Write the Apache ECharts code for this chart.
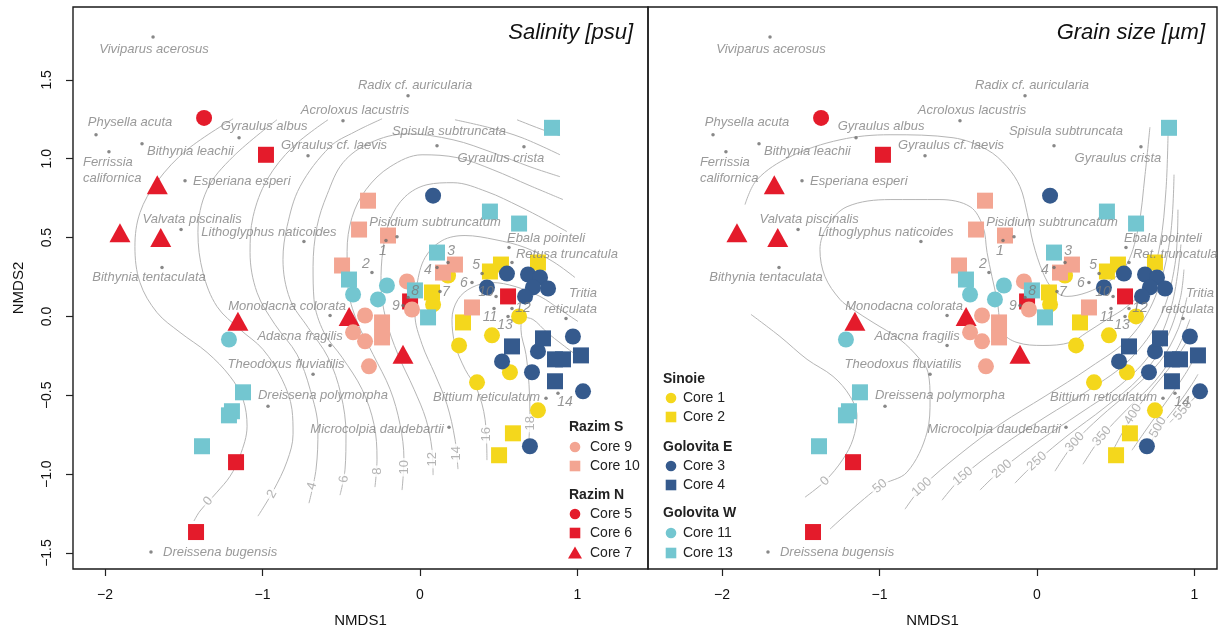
<!DOCTYPE html>
<html><head><meta charset="utf-8">
<script src="https://cdn.jsdelivr.net/npm/echarts/dist/echarts.min.js"></script>
<style>html,body{margin:0;padding:0;background:#fff}#c{width:1219px;height:633px}</style>
</head><body><div id="c"></div>
<script>
// ---------------- DATA ----------------
const core1 = [[0.178,0.259],[0.083,0.076],[0.248,-0.184],[0.362,-0.418],[0.457,-0.120],[0.629,0.000],[0.571,-0.354],[0.749,-0.595]];
const core2 = [[0.076,0.152],[0.273,-0.038],[0.444,0.285],[0.514,0.329],[0.749,0.342],[0.590,-0.741],[0.502,-0.880]];
const core3 = [[0.083,0.766],[0.425,0.184],[0.552,0.272],[0.686,0.266],[0.762,0.247],[0.717,0.184],[0.813,0.177],[0.667,0.127],[0.521,-0.285],[0.711,-0.354],[0.749,-0.222],[0.971,-0.127],[1.035,-0.475],[0.698,-0.823]];
const core4 = [[0.584,-0.190],[0.781,-0.139],[0.857,-0.272],[0.908,-0.272],[1.022,-0.247],[0.857,-0.411]];
const core5 = [[-1.371,1.259]];
const core6 = [[-0.978,1.025],[-1.168,-0.924],[-1.422,-1.367],[0.559,0.127],[-0.063,0.095]];
const core7 = [[-1.668,0.835],[-1.905,0.530],[-1.646,0.500],[-1.156,-0.030],[-0.450,0.000],[-0.108,-0.240]];
const core9 = [[-0.083,0.222],[-0.051,0.044],[-0.349,0.006],[-0.425,-0.101],[-0.349,-0.158],[-0.324,-0.316]];
const core10 = [[-0.330,0.734],[-0.387,0.551],[-0.203,0.513],[-0.495,0.323],[0.146,0.278],[0.222,0.329],[-0.241,-0.038],[-0.241,-0.133],[0.330,0.057]];
const core11 = [[-1.213,-0.146],[-0.425,0.139],[-0.210,0.196],[-0.267,0.108]];
const core13 = [[0.838,1.196],[0.444,0.665],[0.629,0.589],[0.108,0.405],[-0.451,0.234],[-0.032,0.165],[0.051,-0.006],[-1.124,-0.481],[-1.194,-0.601],[-1.213,-0.627],[-1.384,-0.823]];

const speciesNames = ['Viviparus acerosus','Physella acuta','Ferrissia californica','Bithynia leachii','Gyraulus albus','Esperiana esperi','Valvata piscinalis','Lithoglyphus naticoides','Bithynia tentaculata','Gyraulus cf. laevis','Acroloxus lacustris','Radix cf. auricularia','Spisula subtruncata','Gyraulus crista','Pisidium subtruncatum','Ebala pointeli','Retusa truncatula','Tritia reticulata','Monodacna colorata','Adacna fragilis','Theodoxus fluviatilis','Dreissena polymorpha','Microcolpia daudebartii','Bittium reticulatum','Dreissena bugensis'];
const speciesX = [-1.695,-2.057,-1.975,-1.765,-1.149,-1.492,-1.517,-0.737,-1.638,-0.711,-0.489,-0.076,0.108,0.660,-0.146,0.565,0.584,0.927,-0.571,-0.571,-0.679,-0.965,0.184,0.800,-1.708];
const speciesY = [1.772,1.152,1.044,1.095,1.133,0.861,0.551,0.475,0.310,1.019,1.241,1.399,1.082,1.076,0.506,0.437,0.342,-0.013,0.006,-0.184,-0.367,-0.570,-0.703,-0.519,-1.494];

const siteLabels = ['1','2','3','4','5','6','7','8','9','10','11','12','13','14'];
const siteX = [-0.216,-0.305,0.178,0.108,0.394,0.330,0.127,-0.076,-0.108,0.483,0.470,0.584,0.559,0.876];
const siteY = [0.481,0.278,0.342,0.310,0.272,0.215,0.158,0.120,0.070,0.127,0.051,0.051,0.000,-0.487];

// salinity contours (psu)
const sal0 = [[-1.187,1.253],[-1.479,1.057],[-1.670,0.854],[-1.778,0.658],[-1.810,0.443],[-1.778,0.215],[-1.670,0.025],[-1.524,-0.101],[-1.352,-0.228],[-1.206,-0.380],[-1.124,-0.525],[-1.098,-0.696],[-1.143,-0.886],[-1.206,-1.013],[-1.289,-1.114],[-1.397,-1.234],[-1.435,-1.297]];
const sal2 = [[-0.908,1.247],[-1.187,1.013],[-1.352,0.804],[-1.410,0.532],[-1.378,0.278],[-1.289,0.063],[-1.143,-0.082],[-0.997,-0.209],[-0.876,-0.399],[-0.813,-0.589],[-0.806,-0.747],[-0.844,-0.918],[-0.933,-1.108],[-1.029,-1.266]];
const sal4 = [[-0.584,1.247],[-0.806,1.076],[-0.971,0.867],[-1.060,0.633],[-1.079,0.405],[-1.035,0.152],[-0.921,-0.051],[-0.781,-0.241],[-0.698,-0.462],[-0.648,-0.715],[-0.660,-0.968],[-0.705,-1.184]];
const sal4b = [[0.616,1.247],[0.762,1.190],[0.889,1.146]];
const sal6 = [[-0.241,1.253],[-0.413,1.171],[-0.571,1.076],[-0.762,0.823],[-0.844,0.570],[-0.870,0.361],[-0.825,0.108],[-0.711,-0.070],[-0.584,-0.259],[-0.502,-0.494],[-0.470,-0.747],[-0.476,-0.968],[-0.508,-1.133]];
const sal6b = [[0.222,1.247],[0.444,1.196],[0.648,1.133],[0.889,1.025]];
const sal8 = [[-0.286,-1.082],[-0.273,-0.905],[-0.292,-0.684],[-0.368,-0.462],[-0.495,-0.259],[-0.610,-0.101],[-0.673,0.108],[-0.679,0.316],[-0.654,0.570],[-0.590,0.772],[-0.489,0.975],[-0.317,1.101],[-0.083,1.158],[0.210,1.120],[0.463,1.038],[0.698,0.949],[0.889,0.886]];
const sal10 = [[-0.114,-1.101],[-0.102,-0.905],[-0.127,-0.684],[-0.190,-0.462],[-0.298,-0.241],[-0.400,-0.032],[-0.457,0.184],[-0.463,0.411],[-0.432,0.627],[-0.343,0.804],[-0.190,0.949],[0.013,1.025],[0.241,1.006],[0.463,0.930],[0.698,0.829],[0.908,0.741]];
const sal12 = [[0.083,-1.006],[0.076,-0.842],[0.038,-0.652],[-0.038,-0.462],[-0.140,-0.241],[-0.216,-0.019],[-0.248,0.203],[-0.235,0.424],[-0.190,0.614],[-0.095,0.759],[0.044,0.835],[0.210,0.848],[0.425,0.791],[0.635,0.696],[0.794,0.614],[0.933,0.538]];
const sal14 = [[0.241,-0.968],[0.222,-0.778],[0.171,-0.557],[0.095,-0.367],[0.013,-0.177],[-0.032,0.013],[-0.019,0.203],[0.032,0.373],[0.140,0.481],[0.286,0.513],[0.476,0.487],[0.667,0.437],[0.844,0.348],[0.984,0.247]];
const sal16 = [[0.425,-0.911],[0.413,-0.652],[0.362,-0.462],[0.286,-0.335],[0.222,-0.177],[0.203,-0.019],[0.241,0.108],[0.330,0.184],[0.457,0.215],[0.603,0.190],[0.762,0.127],[0.889,0.044],[1.003,-0.032]];
const sal18 = [[0.692,-0.778],[0.698,-0.620],[0.692,-0.430],[0.673,-0.241],[0.641,-0.082],[0.654,-0.006],[0.717,-0.019],[0.806,-0.101],[0.902,-0.177],[1.003,-0.253]];
const salLabelText = ['0','2','4','6','8','10','12','14','16','18'];
const salLabelX = [-1.346,-0.940,-0.686,-0.483,-0.273,-0.102,0.076,0.229,0.419,0.698];
const salLabelY = [-1.171,-1.127,-1.076,-1.032,-0.981,-0.956,-0.905,-0.867,-0.747,-0.677];

// grain size contours (µm)
const gs0 = [[-1.816,0.013],[-1.632,-0.127],[-1.460,-0.272],[-1.295,-0.380],[-1.187,-0.506],[-1.143,-0.633],[-1.168,-0.778],[-1.232,-0.905],[-1.346,-1.044],[-1.473,-1.146]];
const gs50 = [[-1.314,-1.348],[-0.997,-1.076],[-0.825,-0.987],[-0.698,-0.734],[-0.679,-0.525],[-0.692,-0.354],[-0.743,-0.272],[-0.870,-0.146],[-1.041,-0.038],[-1.168,0.044],[-1.251,0.108],[-1.346,0.253],[-1.378,0.424],[-1.333,0.570],[-1.206,0.696],[-0.933,0.741],[-0.616,0.741],[-0.425,0.696],[-0.343,0.570],[-0.317,0.405],[-0.286,0.253],[-0.254,0.108],[-0.216,-0.101],[-0.127,-0.165],[0.038,-0.184],[0.210,-0.165],[0.317,-0.101],[0.444,-0.019],[0.571,0.063],[0.705,0.203],[0.781,0.456],[0.819,0.804],[0.832,1.152]];
const gsUpper = [[-1.854,0.709],[-1.778,0.867],[-1.568,1.013],[-1.251,1.120],[-0.933,1.152],[-0.533,1.133],[-0.317,1.057],[-0.190,0.949],[-0.108,0.823],[-0.063,0.658],[-0.025,0.468],[0.038,0.278],[0.102,0.171],[0.190,0.127],[0.317,0.152],[0.444,0.215],[0.559,0.310],[0.641,0.551],[0.686,0.899],[0.717,1.200]];
const gs100 = [[-0.838,-1.222],[-0.730,-1.082],[-0.489,-0.873],[-0.235,-0.684],[0.051,-0.506],[0.337,-0.323],[0.590,-0.133],[0.749,0.120],[0.844,0.487],[0.870,0.899]];
const gs150 = [[-0.603,-1.165],[-0.470,-1.013],[-0.235,-0.829],[0.051,-0.639],[0.337,-0.462],[0.590,-0.272],[0.781,-0.006],[0.876,0.329],[0.895,0.677]];
const gs200 = [[-0.362,-1.101],[-0.222,-0.968],[0.019,-0.785],[0.273,-0.614],[0.527,-0.437],[0.730,-0.222],[0.857,0.076],[0.914,0.456]];
const gs250 = [[-0.140,-1.057],[0.000,-0.918],[0.197,-0.753],[0.432,-0.576],[0.654,-0.386],[0.813,-0.158],[0.908,0.108],[0.933,0.297]];
const gs300 = [[0.114,-0.981],[0.241,-0.797],[0.400,-0.639],[0.590,-0.475],[0.781,-0.285],[0.895,-0.082],[0.952,0.120]];
const gs350 = [[0.292,-0.937],[0.413,-0.759],[0.571,-0.589],[0.749,-0.411],[0.889,-0.209],[0.971,-0.019]];
const gs400 = [[0.463,-0.886],[0.610,-0.620],[0.730,-0.462],[0.857,-0.304],[0.959,-0.146],[0.990,-0.082]];
const gs450 = [[0.603,-0.848],[0.717,-0.684],[0.832,-0.525],[0.940,-0.367],[1.010,-0.247]];
const gs500 = [[0.717,-0.804],[0.781,-0.703],[0.895,-0.557],[0.984,-0.430],[1.022,-0.367]];
const gs550 = [[0.844,-0.671],[0.927,-0.589],[1.003,-0.513],[1.035,-0.481]];
const gsLabelText = ['0','50','100','150','200','250','300','350','400','500','550'];
const gsLabelX = [-1.346,-0.997,-0.730,-0.470,-0.222,0.000,0.241,0.413,0.610,0.768,0.927];
const gsLabelY = [-1.044,-1.076,-1.082,-1.013,-0.968,-0.918,-0.797,-0.759,-0.620,-0.703,-0.595];

const xTicks = [-2,-1,0,1];
const yTicks = [-1.5,-1,-0.5,0,0.5,1,1.5];

// ---------------- STYLES / LAYOUT ----------------
const FONT = 'Liberation Sans, Arial, Helvetica, sans-serif';
const cores = [
  {name:'Core 1', data:core1, color:'#F4D71C', symbol:'circle'},
  {name:'Core 2', data:core2, color:'#F4D71C', symbol:'rect'},
  {name:'Core 3', data:core3, color:'#355A8D', symbol:'circle'},
  {name:'Core 4', data:core4, color:'#355A8D', symbol:'rect'},
  {name:'Core 5', data:core5, color:'#E41B2B', symbol:'circle'},
  {name:'Core 6', data:core6, color:'#E41B2B', symbol:'rect'},
  {name:'Core 7', data:core7, color:'#E41B2B', symbol:'triangle'},
  {name:'Core 9', data:core9, color:'#F3A592', symbol:'circle'},
  {name:'Core 10', data:core10, color:'#F3A592', symbol:'rect'},
  {name:'Core 11', data:core11, color:'#73C6D0', symbol:'circle'},
  {name:'Core 13', data:core13, color:'#73C6D0', symbol:'rect'}
];
const symSize = {circle:16, rect:16, triangle:[21,19]};
// label placement: [dx, dy, align]
const speciesLayout = {
  'Viviparus acerosus':[1,12,'center'], 'Physella acuta':[34,-12,'center'],
  'Ferrissia californica':[-26,19,'left'], 'Bithynia leachii':[5,8,'left'],
  'Gyraulus albus':[25,-11,'center'], 'Esperiana esperi':[8,1,'left'],
  'Valvata piscinalis':[11,-10,'center'], 'Lithoglyphus naticoides':[-35,-9,'center'],
  'Bithynia tentaculata':[-13,10,'center'], 'Gyraulus cf. laevis':[26,-10,'center'],
  'Acroloxus lacustris':[12,-10,'center'], 'Radix cf. auricularia':[7,-10,'center'],
  'Spisula subtruncata':[12,-14,'center'], 'Gyraulus crista':[-23,12,'center'],
  'Pisidium subtruncatum':[38,-14,'center'], 'Ebala pointeli':[37,-9,'center'],
  'Retusa truncatula':[4,-8,'left'], 'Tritia reticulata':[31,-17,'right'],
  'Monodacna colorata':[-43,-9,'center'], 'Adacna fragilis':[-30,-9,'center'],
  'Theodoxus fluviatilis':[-27,-10,'center'], 'Dreissena polymorpha':[55,-11,'center'],
  'Microcolpia daudebartii':[-5,2,'right'], 'Bittium reticulatum':[-6,-1,'right'],
  'Dreissena bugensis':[12,0,'left']
};
const speciesText = {
  'Ferrissia californica':'Ferrissia\ncalifornica', 'Tritia reticulata':'Tritia\nreticulata'
};
const speciesTextRight = {'Retusa truncatula':'Ret. truncatula'};
const siteLayout = [[-3,11],[-6,-8],[3,-11],[-9,3],[-6,-8],[-8,1],[6,1],[7,-6],[-7,1],[-10,-4],[-4,9],[11,0],[-3,9],[7,9]];
const salRot = [50,60,75,85,90,90,90,90,90,90];
const gsRot = [45,40,42,40,40,42,48,50,58,60,50];

// ---------------- BUILD ----------------
const series = [];
function contour(pts, gi){
  series.push({type:'line', xAxisIndex:gi, yAxisIndex:gi, data:pts, smooth:0.35, symbol:'none',
    silent:true, animation:false, z:1, lineStyle:{color:'#b5b5b5', width:1}});
}
[sal0,sal2,sal4,sal4b,sal6,sal6b,sal8,sal10,sal12,sal14,sal16,sal18].forEach(p=>contour(p,0));
[gs0,gs50,gsUpper,gs100,gs150,gs200,gs250,gs300,gs350,gs400,gs450,gs500,gs550].forEach(p=>contour(p,1));

function contourLabels(txt, xs, ys, rots, gi){
  series.push({type:'scatter', xAxisIndex:gi, yAxisIndex:gi, silent:true, animation:false, z:2,
    symbolSize:1, itemStyle:{color:'rgba(0,0,0,0)'},
    data: txt.map((t,i)=>({value:[xs[i],ys[i]], name:t, label:{rotate:rots[i]}})),
    label:{show:true, position:'inside', formatter:'{b}', color:'#a3a3a3', fontSize:13, fontFamily:FONT,
      backgroundColor:'#fff', padding:[0,2]}});
}
contourLabels(salLabelText, salLabelX, salLabelY, salRot, 0);
contourLabels(gsLabelText, gsLabelX, gsLabelY, gsRot, 1);

[0,1].forEach(gi=>{
  cores.forEach((c,k)=>{
    series.push({type:'scatter', name:c.name, xAxisIndex:gi, yAxisIndex:gi, data:c.data, symbol:c.symbol,
      symbolSize:symSize[c.symbol], itemStyle:{color:c.color, opacity:1}, z:10+k, animation:false, silent:true});
  });
  series.push({type:'scatter', xAxisIndex:gi, yAxisIndex:gi, z:40, symbolSize:3.5, animation:false, silent:true,
    itemStyle:{color:'#6a6a6a'},
    data: speciesNames.map((n,i)=>{
      const L = speciesLayout[n];
      let t = speciesText[n] || n;
      if (gi===1 && speciesTextRight[n]) t = speciesTextRight[n];
      return {value:[speciesX[i],speciesY[i]], name:t, label:{offset:[L[0],L[1]], align:L[2]}};
    }),
    label:{show:true, position:'inside', formatter:'{b}', color:'#808080', fontSize:13, fontStyle:'italic',
      fontFamily:FONT, verticalAlign:'middle', lineHeight:16}});
  series.push({type:'scatter', xAxisIndex:gi, yAxisIndex:gi, z:41, symbolSize:3.5, animation:false, silent:true,
    itemStyle:{color:'#6a6a6a'},
    data: siteLabels.map((n,i)=>({value:[siteX[i],siteY[i]], name:n, label:{offset:siteLayout[i]}})),
    label:{show:true, position:'inside', formatter:'{b}', color:'#7a7a7a', fontSize:14, fontStyle:'italic',
      fontFamily:FONT, align:'center', verticalAlign:'middle'}});
});

const fmtX = v => String(v).replace('-', '\u2212');
const fmtY = v => Number(v).toFixed(1).replace('-', '\u2212');
function xAx(gi, min, max){
  return {type:'value', gridIndex:gi, min, max, name:'NMDS1', nameLocation:'middle', nameGap:44,
    nameTextStyle:{fontSize:15, color:'#111', fontFamily:FONT},
    splitLine:{show:false}, axisLine:{show:false, onZero:false},
    axisTick:{show:true, inside:false, length:7, customValues:xTicks, lineStyle:{color:'#222', width:1.2}},
    axisLabel:{customValues:xTicks, formatter:fmtX, margin:19, fontSize:14, color:'#111', fontFamily:FONT}};
}
const yMin = -1.6013, yMax = 1.962;
const option = {
  backgroundColor:'#fff', animation:false,
  grid:[
    {left:73, top:7, width:575, height:563, show:true, borderColor:'#1a1a1a', borderWidth:1.4},
    {left:648, top:7, width:569, height:563, show:true, borderColor:'#1a1a1a', borderWidth:1.4}
  ],
  xAxis:[ xAx(0,-2.2032,1.4476), xAx(1,-2.4698,1.1429) ],
  yAxis:[
    {type:'value', gridIndex:0, min:yMin, max:yMax, name:'NMDS2', nameLocation:'middle', nameGap:47, nameRotate:90,
      nameTextStyle:{fontSize:15, color:'#111', fontFamily:FONT},
      splitLine:{show:false}, axisLine:{show:false, onZero:false},
      axisTick:{show:true, inside:false, length:7, customValues:yTicks, lineStyle:{color:'#222', width:1.2}},
      axisLabel:{customValues:yTicks, formatter:fmtY, rotate:90, margin:19, fontSize:14, color:'#111', fontFamily:FONT}},
    {type:'value', gridIndex:1, min:yMin, max:yMax, splitLine:{show:false}, axisLine:{show:false, onZero:false},
      axisTick:{show:false}, axisLabel:{show:false}}
  ],
  series,
  graphic: []
};

// titles
option.graphic.push({type:'text', x:633, y:33, z:50, style:{text:'Salinity [psu]', textAlign:'right', textVerticalAlign:'middle',
  font:'italic 22px ' + FONT, fill:'#111'}});
option.graphic.push({type:'text', x:1205, y:33, z:50, style:{text:'Grain size [\u00b5m]', textAlign:'right', textVerticalAlign:'middle',
  font:'italic 22px ' + FONT, fill:'#111'}});

// legends
function legendBlock(hx, sx, tx, items){
  items.forEach(it=>{
    if (it.head){
      option.graphic.push({type:'text', x:hx, y:it.y, z:50, style:{text:it.head, textVerticalAlign:'middle',
        font:'bold 14px ' + FONT, fill:'#222'}});
      return;
    }
    const c = cores.find(k=>k.name===it.core);
    if (c.symbol==='circle') option.graphic.push({type:'circle', z:50, shape:{cx:sx, cy:it.y, r:5.3}, style:{fill:c.color}});
    else if (c.symbol==='rect') option.graphic.push({type:'rect', z:50, shape:{x:sx-5.3, y:it.y-5.3, width:10.6, height:10.6}, style:{fill:c.color}});
    else option.graphic.push({type:'polygon', z:50, shape:{points:[[sx,it.y-6.5],[sx+7,it.y+5.5],[sx-7,it.y+5.5]]}, style:{fill:c.color}});
    option.graphic.push({type:'text', x:tx, y:it.y, z:50, style:{text:it.core, textVerticalAlign:'middle',
      font:'14px ' + FONT, fill:'#222'}});
  });
}
legendBlock(569, 575, 590, [
  {head:'Razim S', y:427}, {core:'Core 9', y:447}, {core:'Core 10', y:466},
  {head:'Razim N', y:495}, {core:'Core 5', y:514}, {core:'Core 6', y:533}, {core:'Core 7', y:553}
]);
legendBlock(663, 671, 683, [
  {head:'Sinoie', y:379}, {core:'Core 1', y:398}, {core:'Core 2', y:417},
  {head:'Golovita E', y:447}, {core:'Core 3', y:466}, {core:'Core 4', y:485},
  {head:'Golovita W', y:513}, {core:'Core 11', y:533}, {core:'Core 13', y:553}
]);

const chart = echarts.init(document.getElementById('c'), null, {renderer:'canvas'});
chart.setOption(option);
</script></body></html>
